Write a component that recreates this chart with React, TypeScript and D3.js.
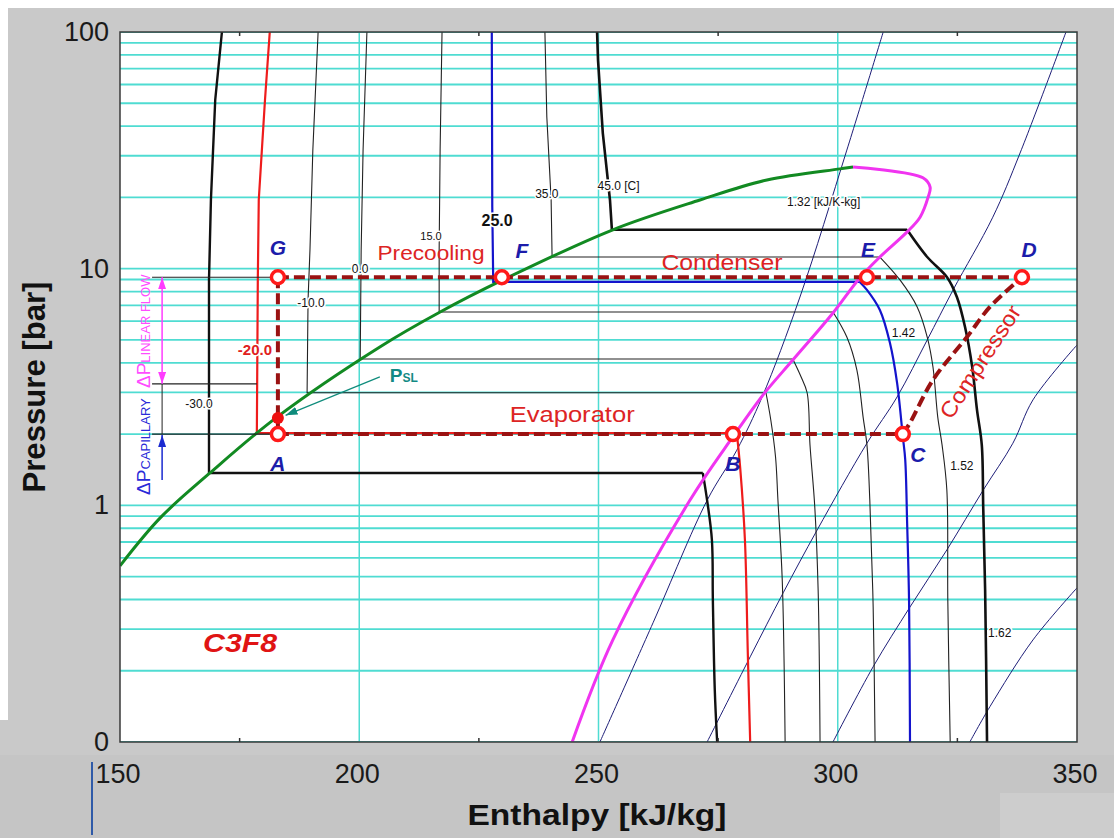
import React from 'react';
import * as d3 from 'd3';

type Pt = [number, number];

// ---------- axes ----------
const xTickValues = [150, 200, 250, 300, 350];
const xMinorTickValues = [175, 225, 275, 325];
const xGridValues = [200, 250, 300];
const yTickValues = [100, 10, 1, 0.1];
const yTickLabels = ['100', '10', '1', '0'];

// ---------- saturation dome (h kJ/kg, P bar) ----------
const satLiquid: Pt[] = [[150, 0.555], [158.4, 0.885], [168.8, 1.37], [182.8, 2.36], [204.3, 4.67], [216.9, 6.56], [230.0, 8.96], [253.0, 14.6], [271.2, 19.5], [285.2, 23.7], [300.5, 26.4], [303.2, 26.9]];
const satVapor: Pt[] = [[303.2, 26.9], [317.8, 24.2], [319.3, 22.1], [318.9, 20.1], [317.2, 16.5], [314.5, 14.3], [308.8, 11.2], [304.6, 9.14], [299.0, 6.5], [290.6, 4.11], [284.4, 2.93], [278.1, 1.95], [269.1, 1.05], [253.0, 0.27], [244.5, 0.1]];

// ---------- isotherms: liquid branch / vapour branch ----------
const tM30L: Pt[] = [[171.3, 100], [169.9, 51.6], [169.0, 19.5], [168.6, 8.96], [168.6, 1.37]];
const tM30V: Pt[] = [[271.8, 1.37], [272.7, 1.05], [273.7, 0.714], [273.9, 0.398], [274.3, 0.166], [274.8, 0.1]];
const tM20L: Pt[] = [[181.3, 100], [180.3, 51.6], [179.0, 19.5], [178.8, 8.96], [178.6, 2.02]];
const tM20V: Pt[] = [[278.9, 2.02], [279.6, 1.45], [280.6, 0.714], [281.2, 0.238], [281.7, 0.1]];
const tM10L: Pt[] = [[191.4, 100], [190.3, 31.7], [189.7, 12.0], [189.3, 7.38], [189.1, 2.99]];
const tM10V: Pt[] = [[285.0, 2.99], [286.0, 2.3], [287.0, 1.6], [287.5, 1.05], [288.4, 0.484], [289.0, 0.1]];
const t0L: Pt[] = [[201.6, 100], [200.8, 31.7], [200.4, 12.0], [200.2, 4.15]];
const t0V: Pt[] = [[290.6, 4.15], [292.3, 3.5], [293.6, 2.99], [294.2, 1.8], [295.2, 0.984], [295.9, 0.439], [296.3, 0.1]];
const t15L: Pt[] = [[217.3, 100], [216.9, 31.7], [216.7, 12.0], [216.7, 6.56]];
const t15V: Pt[] = [[299.0, 6.56], [301.9, 5.14], [304.0, 3.73], [305.3, 2.36], [306.1, 1.8], [306.7, 1.05], [307.4, 0.372], [307.8, 0.1]];
const t25L: Pt[] = [[227.7, 100], [227.8, 18.2], [228.0, 8.79]];
const t25V: Pt[] = [[304.6, 8.79], [306.1, 8.13], [308.8, 6.69], [310.9, 4.86], [312.4, 3.29], [313.6, 1.95], [314.1, 1.56], [314.5, 0.842], [314.9, 0.398], [315.1, 0.1]];
const t35L: Pt[] = [[238.8, 100], [239.2, 43.7], [240.1, 19.5], [240.3, 11.2]];
const t35V: Pt[] = [[308.8, 11.2], [313.0, 8.96], [316.6, 6.89], [318.7, 5.14], [319.9, 3.84], [320.9, 2.36], [321.8, 1.8], [322.8, 1.16], [323.0, 0.398], [323.5, 0.1]];
const t45L: Pt[] = [[249.7, 100], [249.9, 76.1], [250.9, 37.4], [252.4, 19.5], [252.8, 14.6]];
const t45V: Pt[] = [[314.5, 14.6], [318.7, 11.2], [322.8, 9.22], [324.9, 7.59], [326.6, 5.67], [328.1, 3.84], [329.1, 2.53], [330.1, 1.8], [330.4, 0.984], [330.8, 0.439], [331.2, 0.1]];

const isoTemps = ['-30.0', '-20.0', '-10.0', '0.0', '15.0', '25.0', '35.0', '45.0 [C]'];
// label anchors (h, P) for isotherm labels
const isoLabelH = [166.5, 178.2, 189.9, 200.2, 215.0, 228.8, 239.2, 254.2];
const isoLabelP = [2.58, 4.32, 6.89, 9.59, 13.2, 15.15, 19.9, 21.5];

// ---------- isentropes ----------
const s132: Pt[] = [[309.5, 100], [301.9, 31.7], [292.1, 7.59], [284.2, 2.87], [278.9, 1.71], [272.7, 1.05], [261.4, 0.319], [250.3, 0.1]];
const s142: Pt[] = [[347.7, 100], [338.1, 30.8], [332.4, 16.5], [324.1, 8.13], [318.7, 5.0], [312.4, 2.87], [306.1, 1.83], [295.7, 0.787], [288.6, 0.427], [281.7, 0.229], [272.7, 0.1]];
const s152: Pt[] = [[350, 4.76], [340.8, 2.79], [336.6, 1.83], [330.4, 1.16], [322.8, 0.648], [315.1, 0.372], [307.4, 0.208], [299.0, 0.1]];
const s162: Pt[] = [[350, 0.448], [340.8, 0.27], [331.8, 0.141], [327.6, 0.1]];
const entropyLabels = ['1.32 [kJ/K-kg]', '1.42', '1.52', '1.62'];
const entropyLabelH = [289.4, 311.3, 323.5, 331.4];
const entropyLabelP = [18.4, 5.14, 1.41, 0.278];

// ---------- refrigeration cycle ----------
const cycleNames = ['A', 'B', 'C', 'D', 'E', 'F', 'G'];
const cycleH = [183.0, 278.1, 313.6, 338.5, 306.1, 229.8, 183.0];
const cycleP = [2.0, 2.0, 2.0, 9.2, 9.2, 9.2, 9.2];
const compressorPath: Pt[] = [[313.6, 2.0], [315.1, 2.23], [319.9, 3.39], [327.0, 5.14], [331.8, 6.89], [338.5, 9.2]];
const pslPoint: Pt = [183.0, 2.34];
const linearFlowEndP = 3.26;
const capillaryArrowStartP = 1.28;

const processLabels = ['Precooling', 'Condenser', 'Evaporator'];
const processLabelH = [215.0, 275.8, 244.5];
const processLabelP = [10.9, 9.87, 2.25];

const FONT = "Arial, 'Liberation Sans', Helvetica, sans-serif";

export default function App() {
  const x = d3.scaleLinear().domain([150, 350]).range([120, 1077]);
  const y = d3.scaleLog().domain([0.1, 100]).range([742, 32]);
  const lin = d3.line<Pt>().x(d => x(d[0])).y(d => y(d[1]));
  const smooth = d3.line<Pt>().x(d => x(d[0])).y(d => y(d[1])).curve(d3.curveCatmullRom.alpha(0.5));

  const [px0, px1] = x.range();
  const [pyB, pyT] = y.range();

  const hGrid: number[] = [];
  [0.1, 1, 10].forEach(d => { for (let k = 1; k <= 9; k++) hGrid.push(k * d); });
  hGrid.push(100);

  const isotherms = [
    { L: tM30L, V: tM30V, c: '#111111', w: 2.4 },
    { L: tM20L, V: tM20V, c: '#ee1c1c', w: 2.2 },
    { L: tM10L, V: tM10V, c: '#222222', w: 1.1 },
    { L: t0L, V: t0V, c: '#222222', w: 1.1 },
    { L: t15L, V: t15V, c: '#222222', w: 1.1 },
    { L: t25L, V: t25V, c: '#1414cc', w: 2.2 },
    { L: t35L, V: t35V, c: '#222222', w: 1.1 },
    { L: t45L, V: t45V, c: '#111111', w: 2.6 },
  ];
  const isoLabelStyle = [
    { fs: 12, fill: '#111', fw: 'normal' },
    { fs: 15, fill: '#e02020', fw: 'bold' },
    { fs: 12, fill: '#111', fw: 'normal' },
    { fs: 12, fill: '#111', fw: 'normal' },
    { fs: 11, fill: '#111', fw: 'normal' },
    { fs: 16, fill: '#111', fw: 'bold' },
    { fs: 12, fill: '#111', fw: 'normal' },
    { fs: 12, fill: '#111', fw: 'normal' },
  ];
  const isentropes = [s132, s142, s152, s162];

  const G = 6, A = 0;
  const labelOffsets: Record<string, [number, number]> = {
    A: [0, 37], B: [0, 37], C: [15, 28], D: [7, -20], E: [1, -20], F: [20, -19], G: [0, -22],
  };

  const dashStyle = { stroke: '#9a1212', strokeWidth: 4, strokeDasharray: '11,5', fill: 'none' };
  const halo = { paintOrder: 'stroke' as const, stroke: '#ffffff', strokeWidth: 3, strokeLinejoin: 'round' as const };

  const refStartH = 156.7;
  const arrowH = 158.8;

  return (
    <svg width={1114} height={838} style={{ position: 'absolute', left: 0, top: 0 }} fontFamily={FONT}>
      <defs>
        <clipPath id="plotClip">
          <rect x={px0} y={pyT} width={px1 - px0} height={pyB - pyT} />
        </clipPath>
        <marker id="magArrow" viewBox="0 0 12 8" refX={12} refY={4} markerWidth={12} markerHeight={8} markerUnits="userSpaceOnUse" orient="auto-start-reverse">
          <path d="M0,0 L12,4 L0,8 z" fill="#ff3cff" />
        </marker>
        <marker id="blueArrow" viewBox="0 0 12 8" refX={12} refY={4} markerWidth={12} markerHeight={8} markerUnits="userSpaceOnUse" orient="auto">
          <path d="M0,0 L12,4 L0,8 z" fill="#1a2ad0" />
        </marker>
        <marker id="tealArrow" viewBox="0 0 12 8" refX={12} refY={4} markerWidth={12} markerHeight={8} markerUnits="userSpaceOnUse" orient="auto">
          <path d="M0,0 L12,4 L0,8 z" fill="#0f8c7c" />
        </marker>
      </defs>

      {/* background */}
      <rect x={0} y={0} width={1114} height={838} fill="#ffffff" />
      <rect x={8} y={8} width={1106} height={830} fill="#c9c9c9" />
      <rect x={0} y={720} width={8} height={118} fill="#c9c9c9" />
      <rect x={0} y={755} width={1114} height={83} fill="#c5c5c5" />
      <rect x={1000} y={793} width={114} height={45} fill="#cdcdcd" />
      <line x1={92} x2={92} y1={762} y2={835} stroke="#2f5aa8" strokeWidth={2} />

      {/* plot area */}
      <rect x={px0} y={pyT} width={px1 - px0} height={pyB - pyT} fill="#ffffff" />

      <g clipPath="url(#plotClip)">
        {hGrid.map((v, i) => (
          <line key={'hg' + i} x1={px0} x2={px1} y1={y(v)} y2={y(v)} stroke="#4fdcd2" strokeWidth={1.8} />
        ))}
        {xGridValues.map(v => (
          <line key={'vg' + v} x1={x(v)} x2={x(v)} y1={pyT} y2={pyB} stroke="#4fdcd2" strokeWidth={1.5} />
        ))}

        {/* isentropes */}
        {isentropes.map((s, i) => (
          <path key={'s' + i} d={smooth(s) || ''} fill="none" stroke="#1e1e78" strokeWidth={1} />
        ))}

        {/* isotherms */}
        {isotherms.map((t, i) => (
          <g key={'t' + i}>
            <path d={lin([...t.L, t.V[0]]) || ''} fill="none" stroke={t.c} strokeWidth={t.w} />
            <path d={smooth(t.V) || ''} fill="none" stroke={t.c} strokeWidth={t.w} />
          </g>
        ))}

        {/* saturation dome */}
        <path d={smooth(satLiquid) || ''} fill="none" stroke="#128a22" strokeWidth={3} />
        <path d={smooth(satVapor) || ''} fill="none" stroke="#f034f0" strokeWidth={3} />
      </g>

      {/* isotherm & isentrope labels */}
      {isoTemps.map((t, i) => (
        <text key={'tl' + i} x={x(isoLabelH[i])} y={y(isoLabelP[i])} textAnchor="middle"
          fontSize={isoLabelStyle[i].fs} fontWeight={isoLabelStyle[i].fw} fill={isoLabelStyle[i].fill} style={halo}>{t}</text>
      ))}
      {entropyLabels.map((t, i) => (
        <text key={'el' + i} x={x(entropyLabelH[i])} y={y(entropyLabelP[i])} fontSize={12} fill="#111" style={halo}>{t}</text>
      ))}

      {/* reference lines for pressure drops */}
      <line x1={x(refStartH)} x2={x(cycleH[G])} y1={y(cycleP[G])} y2={y(cycleP[G])} stroke="#222" strokeWidth={1.2} />
      <line x1={x(refStartH)} x2={x(tM20L[tM20L.length - 1][0])} y1={y(linearFlowEndP)} y2={y(linearFlowEndP)} stroke="#222" strokeWidth={1.2} />
      <line x1={x(refStartH)} x2={x(cycleH[A])} y1={y(cycleP[A])} y2={y(cycleP[A])} stroke="#222" strokeWidth={1.2} />
      <line x1={x(arrowH)} x2={x(arrowH)} y1={y(linearFlowEndP)} y2={y(cycleP[A])} stroke="#222" strokeWidth={1} />
      <line x1={x(arrowH)} x2={x(arrowH)} y1={y(cycleP[G])} y2={y(linearFlowEndP)} stroke="#ff3cff" strokeWidth={1.5}
        markerStart="url(#magArrow)" markerEnd="url(#magArrow)" />
      <line x1={x(arrowH)} x2={x(arrowH)} y1={y(capillaryArrowStartP)} y2={y(cycleP[A]) + 1} stroke="#1a2ad0" strokeWidth={1.5}
        markerEnd="url(#blueArrow)" />

      {/* cycle dashed lines */}
      <path d={lin([[cycleH[G], cycleP[G]], [cycleH[3], cycleP[3]]]) || ''} style={dashStyle} />
      <path d={lin([[cycleH[G], cycleP[G]], [cycleH[A], cycleP[A]]]) || ''} style={dashStyle} />
      <path d={lin([[cycleH[A], cycleP[A]], [cycleH[2], cycleP[2]]]) || ''} style={dashStyle} />
      <path d={smooth(compressorPath) || ''} style={dashStyle} />

      {/* Psl point and arrow */}
      <circle cx={x(pslPoint[0])} cy={y(pslPoint[1])} r={6} fill="#ee1010" />
      <line x1={x(204.3)} y1={y(3.49)} x2={x(184.6)} y2={y(2.40)} stroke="#0f8c7c" strokeWidth={1.2} markerEnd="url(#tealArrow)" />
      <text x={x(206.4)} y={y(3.32)} fill="#138a84" fontWeight="bold">
        <tspan fontSize={19}>P</tspan><tspan fontSize={12}>SL</tspan>
      </text>

      {/* cycle state points */}
      {cycleNames.map((n, i) => (
        <circle key={'c' + n} cx={x(cycleH[i])} cy={y(cycleP[i])} r={6.5} fill="#ffffff" stroke="#ff1a1a" strokeWidth={3.5} />
      ))}
      {cycleNames.map((n, i) => (
        <text key={'cl' + n} x={x(cycleH[i]) + labelOffsets[n][0]} y={y(cycleP[i]) + labelOffsets[n][1]}
          textAnchor="middle" fontSize={21} fontWeight="bold" fontStyle="italic" fill="#1c1caa">{n}</text>
      ))}

      {/* process labels */}
      {processLabels.map((t, i) => (
        <text key={'pl' + i} x={x(processLabelH[i])} y={y(processLabelP[i])} textAnchor="middle" fontSize={[20, 22, 22][i]}
          fill="#dd2424" textLength={[107, 121, 125][i]} lengthAdjust="spacingAndGlyphs">{t}</text>
      ))}
      <text transform={`translate(${x(329.9)},${y(4.03)}) rotate(-57)`} textAnchor="middle" dy={7} fontSize={22}
        fill="#dd2424" textLength={130} lengthAdjust="spacingAndGlyphs">Compressor</text>

      <text x={x(175.1)} y={y(0.24)} textAnchor="middle" fontSize={25} fontWeight="bold" fontStyle="italic"
        fill="#e01414" textLength={74} lengthAdjust="spacingAndGlyphs">C3F8</text>

      {/* pressure drop labels */}
      <text transform={`translate(150,${y(3.13)}) rotate(-90)`} fill="#ff4cff">
        <tspan fontSize={19}>ΔP</tspan><tspan fontSize={13}>LINEAR FLOW</tspan>
      </text>
      <text transform={`translate(150,${y(1.107)}) rotate(-90)`} fill="#2a2ad8">
        <tspan fontSize={19}>ΔP</tspan><tspan fontSize={13}>CAPILLARY</tspan>
      </text>

      {/* plot frame and ticks */}
      <rect x={px0} y={pyT} width={px1 - px0} height={pyB - pyT} fill="none" stroke="#3a3a3a" strokeWidth={1.5} />
      {xMinorTickValues.map(v => (
        <g key={'mt' + v}>
          <line x1={x(v)} x2={x(v)} y1={pyT} y2={pyT + 4} stroke="#333" strokeWidth={1.5} />
          <line x1={x(v)} x2={x(v)} y1={pyB} y2={pyB - 4} stroke="#333" strokeWidth={1.5} />
        </g>
      ))}

      {/* axis tick labels */}
      {xTickValues.map(v => (
        <text key={'xt' + v} x={x(v) - 2} y={783} textAnchor="middle" fontSize={27} fill="#1a1a1a">{v}</text>
      ))}
      {yTickValues.map((v, i) => (
        <text key={'yt' + v} x={109} y={y(v) + 9} textAnchor="end" fontSize={27} fill="#1a1a1a">{yTickLabels[i]}</text>
      ))}

      {/* axis titles */}
      <text x={597} y={825} textAnchor="middle" fontSize={30} fontWeight="bold" fill="#111"
        textLength={259} lengthAdjust="spacingAndGlyphs">Enthalpy [kJ/kg]</text>
      <text transform="translate(45,387) rotate(-90)" textAnchor="middle" fontSize={31} fontWeight="bold" fill="#111"
        textLength={211} lengthAdjust="spacingAndGlyphs">Pressure [bar]</text>
    </svg>
  );
}
